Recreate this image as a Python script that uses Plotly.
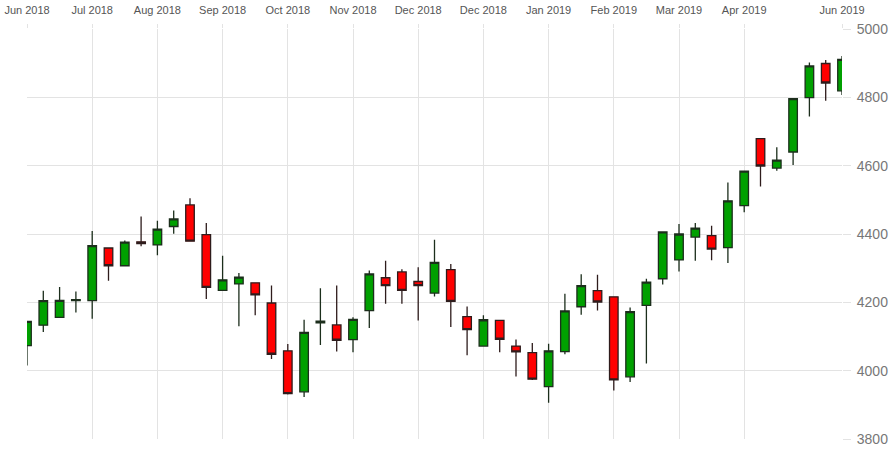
import plotly.graph_objects as go

dates = [
    "2018-06-17", "2018-06-24", "2018-07-01", "2018-07-08", "2018-07-15", "2018-07-22",
    "2018-07-29", "2018-08-05", "2018-08-12", "2018-08-19", "2018-08-26", "2018-09-02",
    "2018-09-09", "2018-09-16", "2018-09-23", "2018-09-30", "2018-10-07", "2018-10-14",
    "2018-10-21", "2018-10-28", "2018-11-04", "2018-11-11", "2018-11-18", "2018-11-25",
    "2018-12-02", "2018-12-09", "2018-12-16", "2018-12-23", "2018-12-30", "2019-01-06",
    "2019-01-13", "2019-01-20", "2019-01-27", "2019-02-03", "2019-02-10", "2019-02-17",
    "2019-02-24", "2019-03-03", "2019-03-10", "2019-03-17", "2019-03-24", "2019-03-31",
    "2019-04-07", "2019-04-14", "2019-04-21", "2019-04-28", "2019-05-05", "2019-05-12",
    "2019-05-19", "2019-05-26", "2019-06-02",
]

open_ = [4073, 4133, 4156, 4205, 4205, 4359, 4307, 4377, 4368, 4422,
         4485, 4398, 4235, 4254, 4257, 4198, 4058, 3938, 4140, 4134,
         4091, 4176, 4272, 4289, 4261, 4227, 4296, 4158, 4072, 4147,
         4072, 4053, 3953, 4056, 4187, 4234, 4216, 3982, 4191, 4269,
         4324, 4391, 4395, 4360, 4483, 4679, 4593, 4640, 4799, 4899,
         4819]
high = [4146, 4234, 4245, 4232, 4409, 4361, 4381, 4451, 4439, 4469,
        4505, 4432, 4336, 4286, 4259, 4249, 4078, 4149, 4241, 4249,
        4156, 4293, 4322, 4297, 4303, 4383, 4312, 4188, 4162, 4149,
        4091, 4081, 4079, 4225, 4282, 4281, 4218, 4185, 4269, 4408,
        4429, 4432, 4424, 4551, 4586, 4681, 4654, 4798, 4902, 4909,
        4921]
low = [4015, 4113, 4154, 4170, 4152, 4263, 4305, 4364, 4338, 4401,
       4378, 4210, 4233, 4130, 4162, 4034, 3930, 3923, 4075, 4056,
       4054, 4125, 4196, 4196, 4147, 4217, 4128, 4045, 4070, 4054,
       3983, 3973, 3906, 4048, 4164, 4176, 3942, 3967, 4021, 4252,
       4290, 4322, 4323, 4315, 4464, 4539, 4585, 4602, 4744, 4790,
       4807]
close = [4144, 4205, 4206, 4208, 4366, 4307, 4376, 4372, 4414, 4444,
         4379, 4244, 4266, 4274, 4222, 4048, 3933, 4112, 4145, 4089,
         4150, 4283, 4249, 4235, 4249, 4317, 4203, 4120, 4149, 4092,
         4055, 3975, 4058, 4175, 4249, 4201, 3973, 4173, 4259, 4406,
         4400, 4417, 4356, 4497, 4584, 4599, 4616, 4796, 4892, 4842,
         4911]

tick_dates = ["2018-06-17", "2018-07-15", "2018-08-12", "2018-09-09", "2018-10-07",
              "2018-11-04", "2018-12-02", "2018-12-30", "2019-01-27", "2019-02-24",
              "2019-03-24", "2019-04-21", "2019-06-02"]
tick_labels = ["Jun 2018", "Jul 2018", "Aug 2018", "Sep 2018", "Oct 2018", "Nov 2018",
               "Dec 2018", "Dec 2018", "Jan 2019", "Feb 2019", "Mar 2019", "Apr 2019",
               "Jun 2019"]
y_ticks = [3800, 4000, 4200, 4400, 4600, 4800, 5000]

grid = "#e3e3e3"

fig = go.Figure(go.Candlestick(
    x=dates, open=open_, high=high, low=low, close=close,
    increasing=dict(fillcolor="#00a000", line=dict(color="#1c2e1c", width=1.3)),
    decreasing=dict(fillcolor="#ff0000", line=dict(color="#2e1c1c", width=1.3)),
    whiskerwidth=0,
    showlegend=False,
    hoverinfo="x+y",
))

fig.update_layout(
    width=894, height=451,
    margin=dict(l=27, r=52, t=29, b=12, autoexpand=False),
    paper_bgcolor="white", plot_bgcolor="white",
    boxgap=0.25,
    font=dict(family="Liberation Sans, Arial, sans-serif"),
    xaxis=dict(
        type="category", side="top", automargin=False,
        range=[0, len(dates) - 1],
        tickmode="array", tickvals=tick_dates, ticktext=tick_labels,
        showgrid=True, gridcolor=grid, gridwidth=1,
        ticks="outside", ticklen=4, tickcolor=grid,
        ticklabelstandoff=6,
        tickfont=dict(size=11, color="#555555"),
        rangeslider=dict(visible=False),
        showline=False, zeroline=False,
    ),
    yaxis=dict(
        side="right", range=[3800, 5000], automargin=False,
        tickmode="array", tickvals=y_ticks,
        showgrid=True, gridcolor=grid, gridwidth=1,
        ticks="outside", ticklen=8, tickcolor=grid,
        ticklabelstandoff=3,
        tickfont=dict(size=14, color="#777777"),
        showline=False, zeroline=False,
    ),
)

fig.write_html("out.html")
